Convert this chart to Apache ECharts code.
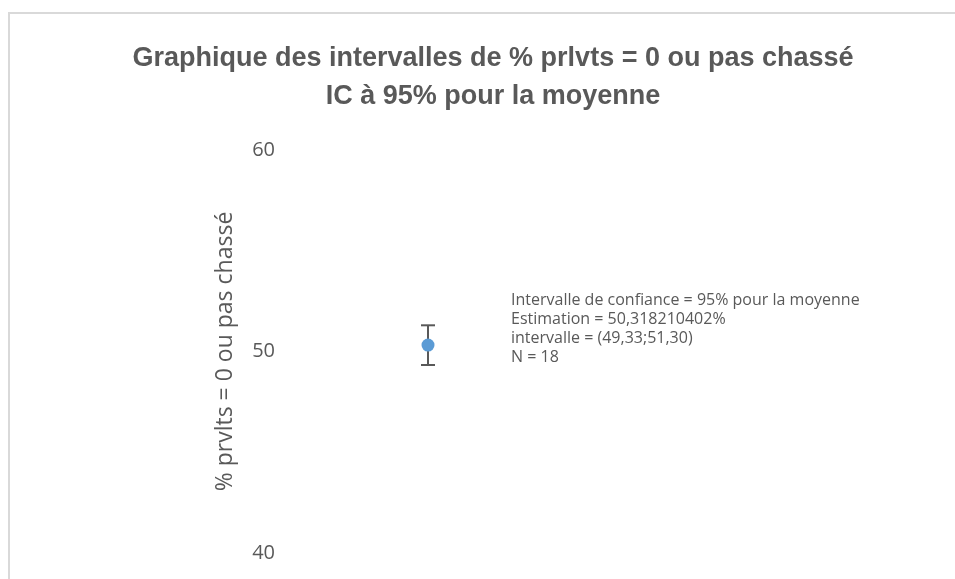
<!DOCTYPE html>
<html>
<head>
<meta charset="utf-8">
<script src="https://cdn.jsdelivr.net/npm/echarts@6/dist/echarts.min.js"></script>
<style>
  html, body { margin: 0; padding: 0; background: #fff; }
  #main { width: 955px; height: 579px; }
</style>
</head>
<body>
<div id="main"></div>
<script>
// données
var categories = ['% prlvts = 0 ou pas chassé'];
var moyenne = [50.318210402];
var borneBasse = [49.33];
var borneHaute = [51.30];
var yTicks = [40, 50, 60];
var infoLines = [
  'Intervalle de confiance = 95% pour la moyenne',
  'Estimation = 50,318210402%',
  'intervalle = (49,33;51,30)',
  'N = 18'
];

var myChart = echarts.init(document.getElementById('main'));

var gris = '#595959';

option = {
  animation: false,
  backgroundColor: '#fff',
  title: {
    text: 'Graphique des intervalles de % prlvts = 0 ou pas chassé\nIC à 95% pour la moyenne',
    left: 488,
    top: 35,
    textAlign: 'center',
    textStyle: {
      fontFamily: 'Liberation Sans',
      fontWeight: 'bold',
      fontSize: 27,
      lineHeight: 38,
      color: gris
    }
  },
  graphic: [
    {
      type: 'rect',
      shape: { x: 9, y: 13, width: 1000, height: 600 },
      style: { fill: null, stroke: '#d9d9d9', lineWidth: 2 },
      silent: true
    },
    {
      type: 'text',
      left: 511,
      top: 291,
      style: {
        text: infoLines.join('\n'),
        font: '16px "Open Sans"',
        lineHeight: 19,
        fill: gris
      }
    }
  ],
  grid: { left: 285, right: 384, top: 150, bottom: 26 },
  xAxis: {
    type: 'category',
    data: categories,
    axisLine: { show: false },
    axisTick: { show: false },
    axisLabel: { show: false }
  },
  yAxis: {
    type: 'value',
    min: yTicks[0],
    max: yTicks[yTicks.length - 1],
    interval: yTicks[1] - yTicks[0],
    name: '% prvlts = 0 ou pas chassé',
    nameLocation: 'middle',
    nameGap: 48,
    nameTextStyle: { fontFamily: 'Open Sans', fontSize: 23, color: gris },
    axisLine: { show: false },
    axisTick: { show: false },
    splitLine: { show: false },
    axisLabel: { fontFamily: 'Open Sans', fontSize: 20, color: gris, margin: 10 }
  },
  series: [
    {
      type: 'custom',
      data: categories.map(function (c, i) { return [i, borneBasse[i], borneHaute[i]]; }),
      renderItem: function (params, api) {
        var x = api.value(0);
        var lo = api.coord([x, api.value(1)]);
        var hi = api.coord([x, api.value(2)]);
        var half = 7;
        var st = { stroke: '#595959', lineWidth: 2 };
        return {
          type: 'group',
          children: [
            { type: 'line', shape: { x1: hi[0], y1: hi[1], x2: lo[0], y2: lo[1] }, style: st },
            { type: 'line', shape: { x1: hi[0] - half, y1: hi[1], x2: hi[0] + half, y2: hi[1] }, style: st },
            { type: 'line', shape: { x1: lo[0] - half, y1: lo[1], x2: lo[0] + half, y2: lo[1] }, style: st }
          ]
        };
      },
      z: 1
    },
    {
      type: 'scatter',
      data: moyenne,
      symbol: 'circle',
      symbolSize: 13,
      itemStyle: { color: '#5b9bd5', opacity: 1 },
      z: 2
    }
  ]
};

myChart.setOption(option);
</script>
</body>
</html>
